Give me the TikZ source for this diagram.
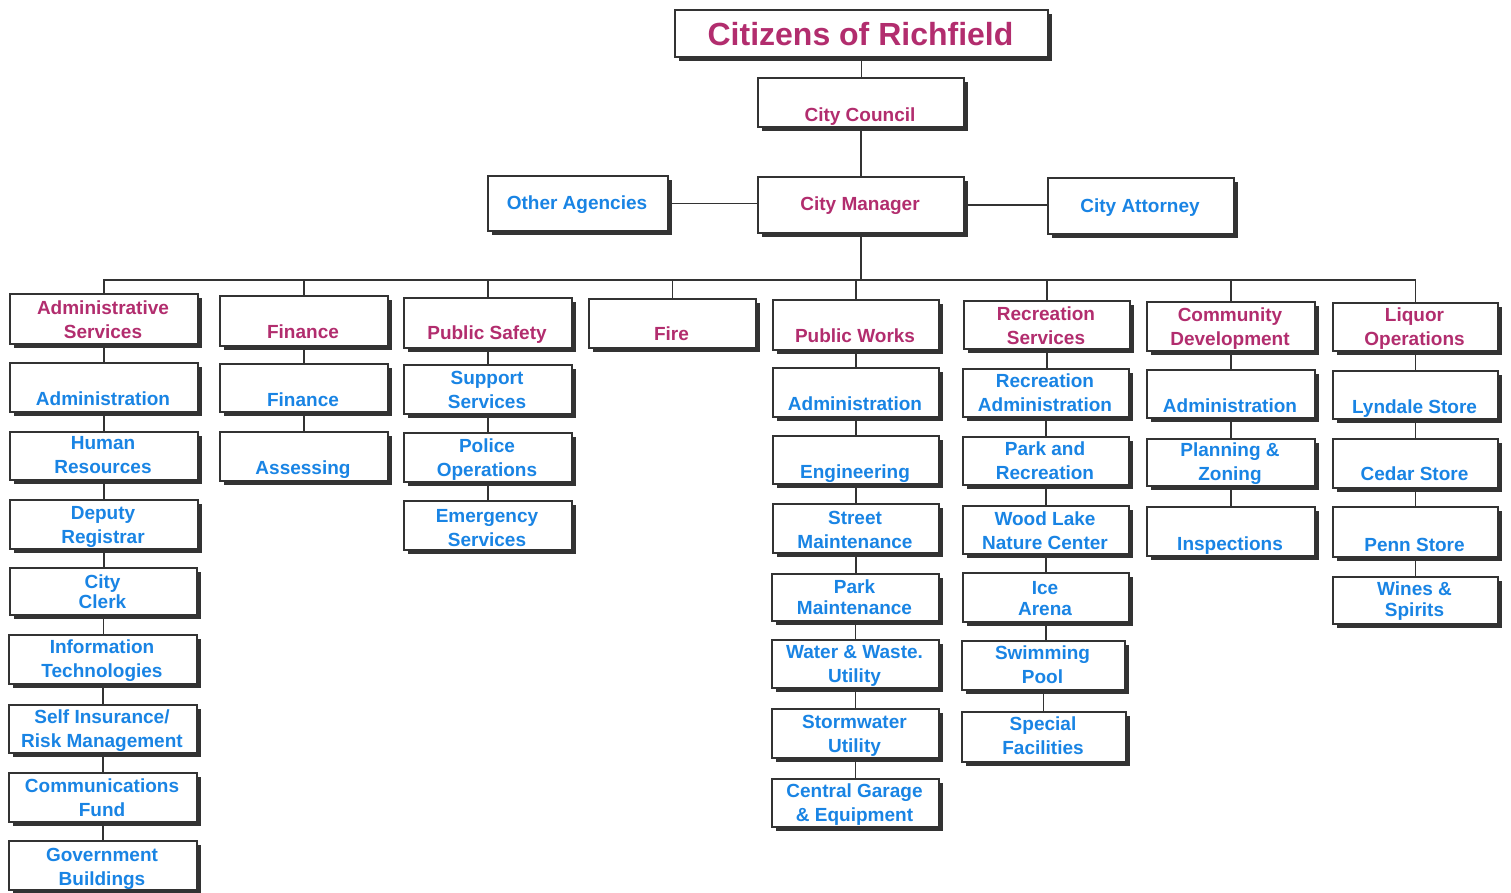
\documentclass[tikz,border=0pt]{standalone}
\usepackage{fontspec}
\setmainfont{Liberation Sans}
\usetikzlibrary{shadows}
\definecolor{mag}{RGB}{178,45,110}
\definecolor{blu}{RGB}{25,132,228}
\newcommand\orgbox[8]{%
  \node[obx, minimum width={(#4-#2)*1pt}, minimum height={(#5-#3)*1pt}, anchor=north west] (#1) at (#2,#3) {};
  \node[otx, text=#7] (#1-t) at ({(#2+#4)/2},#6) {#8};
}
\tikzset{
  obx/.style={draw=black!80, line width=1.8pt, fill=white, inner sep=0pt,
    drop shadow={shadow xshift=4pt, shadow yshift=-4pt, fill=black!80, opacity=1}},
  otx/.style={font=\bfseries\fontsize{19}{24}\selectfont, align=center, inner sep=0pt, text depth=0pt},
  conn/.style={draw=black!80, line width=1.6pt}
}
\begin{document}
\begin{tikzpicture}[x=1pt,y=-1pt]
\useasboundingbox (0,0) rectangle (1511,892);
% top
\orgbox{cit}{674}{9}{1047}{56}{34}{mag}{\fontsize{32}{38}\selectfont Citizens of Richfield}
\orgbox{cc}{757}{77}{963}{126}{115}{mag}{City Council}
\orgbox{oa}{487}{175}{667}{230}{203}{blu}{Other Agencies}
\orgbox{cm}{757}{176}{963}{232}{204}{mag}{City Manager}
\orgbox{ca}{1047}{177}{1233}{233}{206}{blu}{City Attorney}
% heads
\orgbox{adm}{9}{293}{197}{343}{320}{mag}{Administrative\\Services}
\orgbox{fin}{219}{295}{387}{345}{332}{mag}{Finance}
\orgbox{ps}{403}{297}{571}{347}{333}{mag}{Public Safety}
\orgbox{fire}{588}{298}{755}{347}{334}{mag}{Fire}
\orgbox{pw}{772}{299}{938}{349}{336}{mag}{Public Works}
\orgbox{rec}{963}{300}{1129}{348}{326}{mag}{Recreation\\Services}
\orgbox{cd}{1146}{301}{1314}{350}{326.5}{mag}{Community\\Development}
\orgbox{liq}{1332}{302}{1497}{350}{327}{mag}{Liquor\\Operations}
% column 1
\orgbox{a1}{9}{362}{197}{411}{399}{blu}{Administration}
\orgbox{a2}{9}{431}{197}{479}{455}{blu}{Human\\Resources}
\orgbox{a3}{9}{499}{197}{548}{525}{blu}{Deputy\\Registrar}
\orgbox{a4}{9}{567}{196}{614}{592}{blu}{City\\[-4pt]Clerk}
\orgbox{a5}{8}{634}{196}{683}{659}{blu}{Information\\Technologies}
\orgbox{a6}{8}{704}{196}{752}{729}{blu}{Self Insurance/\\Risk Management}
\orgbox{a7}{8}{772}{196}{821}{798}{blu}{Communications\\Fund}
\orgbox{a8}{8}{840}{196}{889}{867}{blu}{Government\\Buildings}
% column 2
\orgbox{f1}{219}{363}{387}{411}{400}{blu}{Finance}
\orgbox{f2}{219}{431}{387}{480}{468}{blu}{Assessing}
% column 3
\orgbox{p1}{403}{364}{571}{413}{389.5}{blu}{Support\\Services}
\orgbox{p2}{403}{432}{571}{481}{457.5}{blu}{Police\\Operations}
\orgbox{p3}{403}{500}{571}{549}{528}{blu}{Emergency\\Services}
% column 5
\orgbox{w1}{772}{367}{938}{416}{404}{blu}{Administration}
\orgbox{w2}{772}{435}{938}{483}{472}{blu}{Engineering}
\orgbox{w3}{772}{503}{938}{552}{530}{blu}{Street\\Maintenance}
\orgbox{w4}{771}{573}{938}{620}{597.5}{blu}{Park\\[-3pt]Maintenance}
\orgbox{w5}{771}{639}{938}{687}{664}{blu}{Water \& Waste.\\Utility}
\orgbox{w6}{771}{708}{938}{757}{734}{blu}{Stormwater\\Utility}
\orgbox{w7}{771}{778}{938}{826}{803}{blu}{Central Garage\\\& Equipment}
% column 6
\orgbox{r1}{962}{368}{1128}{416}{393}{blu}{Recreation\\Administration}
\orgbox{r2}{962}{436}{1128}{484}{461}{blu}{Park and\\Recreation}
\orgbox{r3}{962}{505}{1128}{553}{531}{blu}{Wood Lake\\Nature Center}
\orgbox{r4}{962}{572}{1128}{621}{598.5}{blu}{Ice\\[-3pt]Arena}
\orgbox{r5}{961}{640}{1124}{689}{665}{blu}{Swimming\\Pool}
\orgbox{r6}{961}{711}{1125}{761}{736}{blu}{Special\\Facilities}
% column 7
\orgbox{c1}{1146}{369}{1314}{417}{406}{blu}{Administration}
\orgbox{c2}{1146}{438}{1314}{485}{462}{blu}{Planning \&\\Zoning}
\orgbox{c3}{1146}{506}{1314}{555}{544}{blu}{Inspections}
% column 8
\orgbox{l1}{1332}{370}{1497}{418}{407}{blu}{Lyndale Store}
\orgbox{l2}{1332}{438}{1497}{487}{474}{blu}{Cedar Store}
\orgbox{l3}{1332}{506}{1497}{556}{545}{blu}{Penn Store}
\orgbox{l4}{1332}{576}{1497}{623}{599.5}{blu}{Wines \&\\[-3pt]Spirits}
% connectors
\coordinate (bus) at (860,280);
\draw[conn] (cit.south) -- (cit.south |- cc.north);
\draw[conn] (cc.south) -- (cc.south |- cm.north);
\draw[conn] (oa.east) -- (oa.east -| cm.west);
\draw[conn] (cm.east) -- (cm.east -| ca.west);
\draw[conn] (cm.south) -- (cm.south |- bus);
\draw[conn] (adm.north) -- (adm.north |- bus) -- (liq.north |- bus) -- (liq.north);
\foreach \h in {fin,ps,fire,pw,rec,cd}{\draw[conn] (\h.north) -- (\h.north |- bus);}
\foreach \p/\c in {adm/a1,a1/a2,a2/a3,a3/a4,a4/a5,a5/a6,a6/a7,a7/a8,
  fin/f1,f1/f2, ps/p1,p1/p2,p2/p3,
  pw/w1,w1/w2,w2/w3,w3/w4,w4/w5,w5/w6,w6/w7,
  rec/r1,r1/r2,r2/r3,r3/r4,r4/r5,r5/r6,
  cd/c1,c1/c2,c2/c3, liq/l1,l1/l2,l2/l3,l3/l4}{
  \draw[conn] (\p.south) -- (\p.south |- \c.north);}
\end{tikzpicture}
\end{document}
